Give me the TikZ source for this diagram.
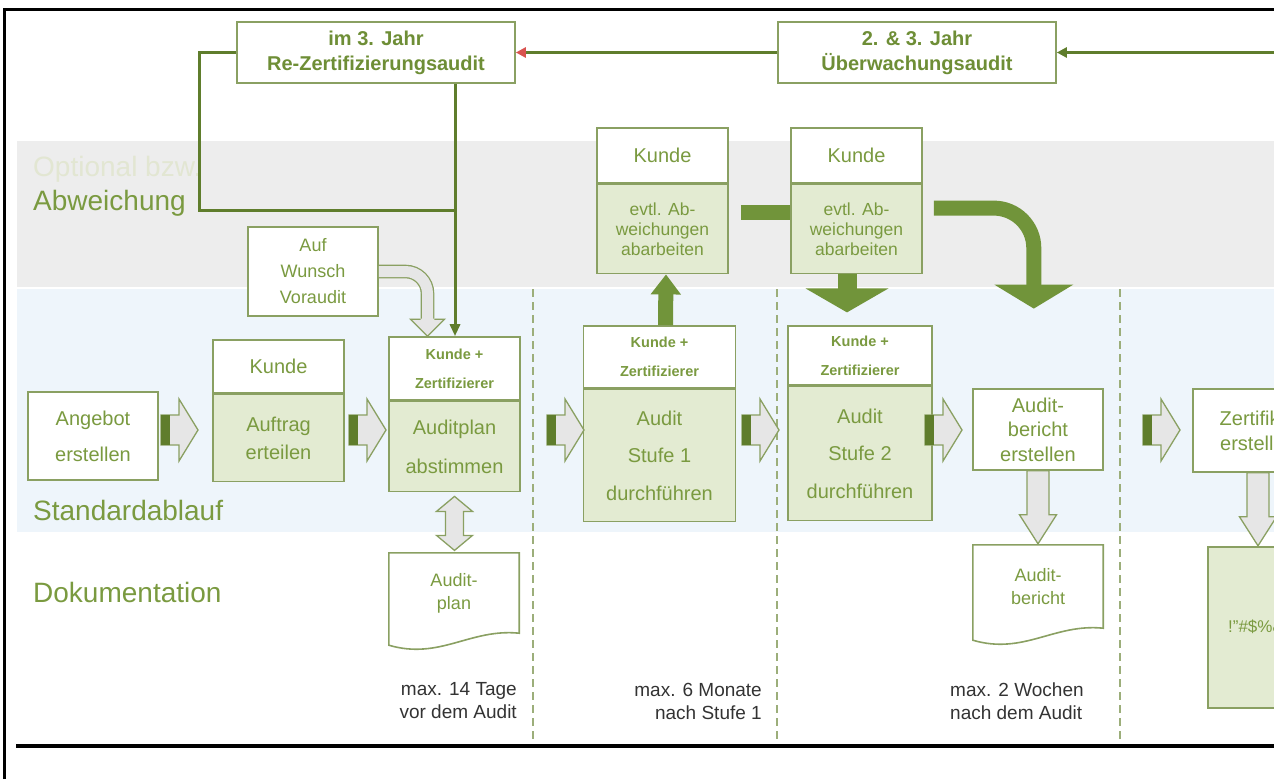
\documentclass[tikz,border=0pt]{standalone}
\usepackage{fontspec}
\setmainfont{Liberation Sans}
\usetikzlibrary{arrows.meta,positioning,calc}

\definecolor{gtext}{HTML}{7A9A40}
\definecolor{gbold}{HTML}{6E8E36}
\definecolor{gline}{HTML}{8AA062}
\definecolor{gfill}{HTML}{E3EBD2}
\definecolor{gdark}{HTML}{5F7D2C}
\definecolor{gsolid}{HTML}{71943A}
\definecolor{bandgray}{HTML}{EDEDED}
\definecolor{bandblue}{HTML}{EEF5FB}
\definecolor{hollowgray}{HTML}{E6E6E6}
\definecolor{faint}{HTML}{E2E6D2}
\definecolor{tipred}{HTML}{D9534F}
\definecolor{notegray}{HTML}{333333}

\begin{document}
\begin{tikzpicture}[
    x=1pt, y=-1pt,
    every node/.style={inner sep=0pt, align=center, text=gtext},
    box/.style={draw=gline, line width=1.6pt, fill=white},
    lines/.style={font=\fontsize{20}{#1}\selectfont},
    duo/.style={font=\bfseries\fontsize{14.5}{29}\selectfont},
    title/.style={box, minimum width=278pt, minimum height=61pt, text=gbold, font=\bfseries\fontsize{20}{25}\selectfont},
    lane/.style={anchor=base west, font=\fontsize{28}{30}\selectfont},
    note/.style={text=notegray, font=\fontsize{19}{23}\selectfont},
    loopline/.style={draw=gdark, line width=3pt},
    hollow/.style={draw=gline, line width=1.3pt, fill=hollowgray},
    bigarrow/.style={draw=gsolid, line width=#1},
    divider/.style={draw=gline!85, line width=2pt, dash pattern=on 8pt off 5pt},
    flowarrow/.pic={
      \filldraw[hollow] (0,-15) -- (18,-15) -- (18,-31) -- (37,0) -- (18,31) -- (18,15) -- (0,15) -- cycle;
      \fill[gdark] (0,-15) rectangle (9,15);
    },
    downarrow/.pic={
      \filldraw[hollow] (-11,0) -- (11,0) -- (11,44) -- (18.5,44) -- (0,73) -- (-18.5,44) -- (-11,44) -- cycle;
    },
    updown/.pic={
      \filldraw[hollow] (0,0) -- (18,15) -- (9,15) -- (9,39) -- (18,39) -- (0,54) -- (-18,39) -- (-9,39) -- (-9,15) -- (-18,15) -- cycle;
    }
  ]
    \useasboundingbox (0,0) rectangle (1274,779);
    \clip (0,0) rectangle (1274,779);

    % Lanes
    \fill[bandgray] (17,141) rectangle (1274,287);
    \fill[bandblue] (17,289) rectangle (1274,532);
    \foreach \x in {533,777,1120}
      \draw[divider] (\x,289) -- (\x,744);

    \node[lane, text=faint] (optional) at (33,176) {Optional bzw.};
    \node[lane] (abw) at (33,210) {Abweichung};
    \node[lane] (std) at (33,520) {Standardablauf};
    \node[lane] (doku) at (33,602) {Dokumentation};

    % Frame
    \draw[black, line width=3pt] (4,779) -- (4,9) -- (1274,9);
    \draw[black, line width=4pt] (16,746) -- (1274,746);

    % Top row
    \node[title] (rezert) at (376,52.5) {im 3. Jahr\\Re-Zertifizierungsaudit};
    \node[title] (ueber) at (917,52.5) {2. \& 3. Jahr\\Überwachungsaudit};

    % Customer boxes (deviations)
    \node[box, lines=24, minimum width=131pt, minimum height=55pt] (evtlK1) at (662.5,155.5) {Kunde};
    \node[box, fill=gfill, font=\fontsize{17.5}{20}\selectfont, minimum width=131pt, minimum height=89pt, below=0pt of evtlK1] (evtl1) {evtl. Ab-\\weichungen\\abarbeiten};
    \node[box, lines=24, minimum width=131pt, minimum height=55pt] (evtlK2) at (856.5,155.5) {Kunde};
    \node[box, fill=gfill, font=\fontsize{17.5}{20}\selectfont, minimum width=131pt, minimum height=89pt, below=0pt of evtlK2] (evtl2) {evtl. Ab-\\weichungen\\abarbeiten};

    \node[box, font=\fontsize{18}{26}\selectfont, minimum width=130pt, minimum height=89pt] (voraudit) at (313,271.5) {Auf\\Wunsch\\Voraudit};

    % Standard flow
    \node[box, lines=36, minimum width=130pt, minimum height=88pt] (angebot) at (93,436) {Angebot\\erstellen};
    \node[box, lines=24, minimum width=131pt, minimum height=53pt] (auftragK) at (278.5,366.5) {Kunde};
    \node[box, fill=gfill, lines=28, minimum width=131pt, minimum height=87pt, below=0pt of auftragK] (auftrag) {Auftrag\\erteilen};
    \node[box, duo, minimum width=131pt, minimum height=63pt] (kz1) at (454.5,368.5) {Kunde +\\Zertifizierer};
    \node[box, fill=gfill, lines=39, minimum width=131pt, minimum height=90pt, below=0pt of kz1] (plan) {Auditplan\\abstimmen};
    \node[box, duo, minimum width=152pt, minimum height=62pt] (kz2) at (659.5,357) {Kunde +\\Zertifizierer};
    \node[box, fill=gfill, lines=37.5, minimum width=152pt, minimum height=132pt, below=0pt of kz2] (stufe1) {Audit\\Stufe 1\\durchführen};
    \node[box, duo, minimum width=144pt, minimum height=59pt] (kz3) at (860,355.5) {Kunde +\\Zertifizierer};
    \node[box, fill=gfill, lines=37.5, minimum width=144pt, minimum height=134pt, below=0pt of kz3] (stufe2) {Audit\\Stufe 2\\durchführen};
    \node[box, lines=24.5, minimum width=130pt, minimum height=81pt] (bericht) at (1038,429.5) {Audit-\\bericht\\erstellen};
    \node[box, lines=25, minimum width=130pt, minimum height=83pt] (zert) at (1258,430.5) {Zertifikat\\erstellen};

    % Documents
    \node[font=\fontsize{18}{23}\selectfont, minimum width=130pt, minimum height=80pt] (plandoc) at (454,593) {Audit-\\plan};
    \draw[box, fill=none] ($(plandoc.south west)+(0,12)$) -- (plandoc.north west) -- (plandoc.north east) -- (plandoc.south east)
      .. controls +(-49,-5) and +(51,15) .. ($(plandoc.south west)+(0,12)$) -- cycle;
    \node[font=\fontsize{18}{23}\selectfont, minimum width=130pt, minimum height=83pt] (berichtdoc) at (1038,586.5) {Audit-\\bericht};
    \draw[box, fill=none] ($(berichtdoc.south west)+(0,12)$) -- (berichtdoc.north west) -- (berichtdoc.north east) -- (berichtdoc.south east)
      .. controls +(-49,-5) and +(51,15) .. ($(berichtdoc.south west)+(0,12)$) -- cycle;
    \node[box, fill=gfill, font=\fontsize{17}{20}\selectfont, minimum width=130pt, minimum height=161pt] (zertdoc) at (1273,627.5) {!"\#\$\%\&\%'(\$};

    % Notes
    \node[note, anchor=east, align=right] (tage) at (517,701) {max. 14 Tage\\vor dem Audit};
    \node[note, anchor=east, align=right] (monate) at (762,701) {max. 6 Monate\\nach Stufe 1};
    \node[note, anchor=west, align=left] (wochen) at (950,701) {max. 2 Wochen\\nach dem Audit};

    % Audit cycle
    \coordinate (join) at (455,210);
    \coordinate (edge) at (1290,52.5);
    \draw[loopline] (rezert.west) -- ++(-37,0) |- (join);
    \draw[loopline, -{Triangle[width=10pt,length=12pt]}] (rezert.south -| join) -- (kz1.north -| join);
    \draw[loopline, -{Triangle[width=10pt,length=10pt,color=tipred]}] (ueber.west) -- (rezert.east);
    \draw[loopline, -{Triangle[width=10pt,length=10pt]}] (edge) -- (ueber.east);

    % Pre-audit
    \draw[gline, line width=1.3pt, double=hollowgray, double distance=11pt, rounded corners=22pt]
      (voraudit.east) -| ($(kz1.north)+(-27,-17)$);
    \fill[hollowgray] ($(kz1.north)+(-44,-17.5)$) -- ($(kz1.north)+(-10,-17.5)$) -- ($(kz1.north)+(-27,0)$) -- cycle;
    \draw[gline, line width=1.3pt] ($(kz1.north)+(-33.8,-17)$) -- ($(kz1.north)+(-44,-17)$) -- ($(kz1.north)+(-27,0)$)
      -- ($(kz1.north)+(-10,-17)$) -- ($(kz1.north)+(-20.2,-17)$);

    % Flow arrows
    \foreach \x in {161,349,547,742,925,1143}
      \pic at (\x,430) {flowarrow};
    \pic at ($(plan.south)+(0,4)$) {updown};
    \pic at (bericht.south) {downarrow};
    \pic at (zert.south) {downarrow};

    % Deviation arrows
    \draw[bigarrow=15pt, -{Triangle[width=29pt,length=20pt]}] ($(kz2.north)+(6,0)$) -- ($(evtl1.south)+(3.5,0)$);
    \draw[bigarrow=15pt] ($(evtl1.east)+(12,-17)$) -- ($(evtl2.west)+(0,-17)$);
    \draw[bigarrow=19pt, -{Triangle[width=82pt,length=24pt]}] ($(evtl2.south)+(-9.5,0)$) -- ++(0,38);
    \draw[bigarrow=15pt, rounded corners=40pt, -{Triangle[width=78pt,length=24pt]}]
      ($(evtl2.east)+(11,-21)$) -| ($(evtl2.east)+(111,79.5)$);

  \end{tikzpicture}
\end{document}
